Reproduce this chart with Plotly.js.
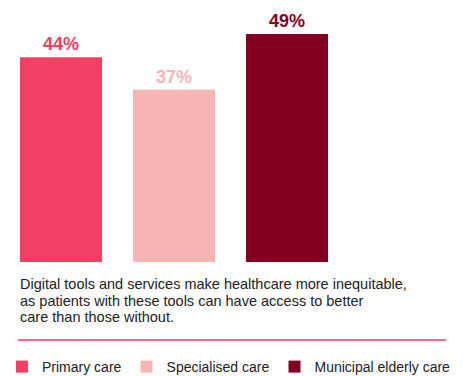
<!DOCTYPE html>
<html>
<head>
<meta charset="utf-8">
<script src="https://cdn.plot.ly/plotly-3.0.1.min.js"></script>
<style>html,body{margin:0;padding:0;background:#fff;}#chart{width:463px;height:376px;}</style>
</head>
<body>
<div id="chart"></div>
<script>
const categories = ["Primary care", "Specialised care", "Municipal elderly care"];
const values = [44, 37, 49];
const colors = ["#F04063", "#F7B5B5", "#830020"];
const captionLines = [
  "Digital tools and services make healthcare more inequitable,",
  "as patients with these tools can have access to better",
  "care than those without."
];

const W = 463, H = 376;
const plotBottom = 262; // px from top
const py = (px) => (plotBottom - px) / plotBottom;

const traces = categories.map((c, i) => ({
  type: "bar",
  name: c,
  x: [i],
  y: [values[i]],
  width: 0.7257,
  marker: { color: colors[i] },
  texttemplate: "%{y}%",
  textposition: "outside",
  cliponaxis: false,
  textfont: { family: "Liberation Sans, Arial, sans-serif", size: 18, weight: "bold", color: colors[i] },
  hoverinfo: "skip"
}));

const annotations = captionLines.map((t, i) => ({
  text: t,
  xref: "paper", yref: "paper",
  x: 18 / W, xanchor: "left",
  y: py(284 + i * 16.7), yanchor: "middle",
  showarrow: false,
  align: "left",
  font: { family: "Liberation Sans, Arial, sans-serif", size: 14.5, color: "#222222" }
}));

const layout = {
  width: W, height: H,
  margin: { l: 0, r: 0, t: 0, b: H - plotBottom, pad: 0, autoexpand: false },
  paper_bgcolor: "#ffffff",
  plot_bgcolor: "#ffffff",
  barmode: "overlay",
  showlegend: true,
  xaxis: { range: [-0.5398, 3.5575], visible: false, fixedrange: true },
  yaxis: { range: [0, plotBottom / 4.653], visible: false, fixedrange: true },
  legend: {
    orientation: "h",
    xref: "container", yref: "container",
    x: 2 / W, xanchor: "left",
    y: (H - 351) / H, yanchor: "top",
    font: { family: "Liberation Sans, Arial, sans-serif", size: 14, color: "#222222" },
    traceorder: "normal",
    bgcolor: "rgba(0,0,0,0)"
  },
  annotations: annotations,
  shapes: [{
    type: "line", xref: "paper", yref: "paper",
    x0: 18 / W, x1: 446 / W, y0: py(340), y1: py(340),
    line: { color: "#F06E8C", width: 2 }
  }]
};

Plotly.newPlot("chart", traces, layout, { displayModeBar: false, staticPlot: true });
</script>
</body>
</html>
